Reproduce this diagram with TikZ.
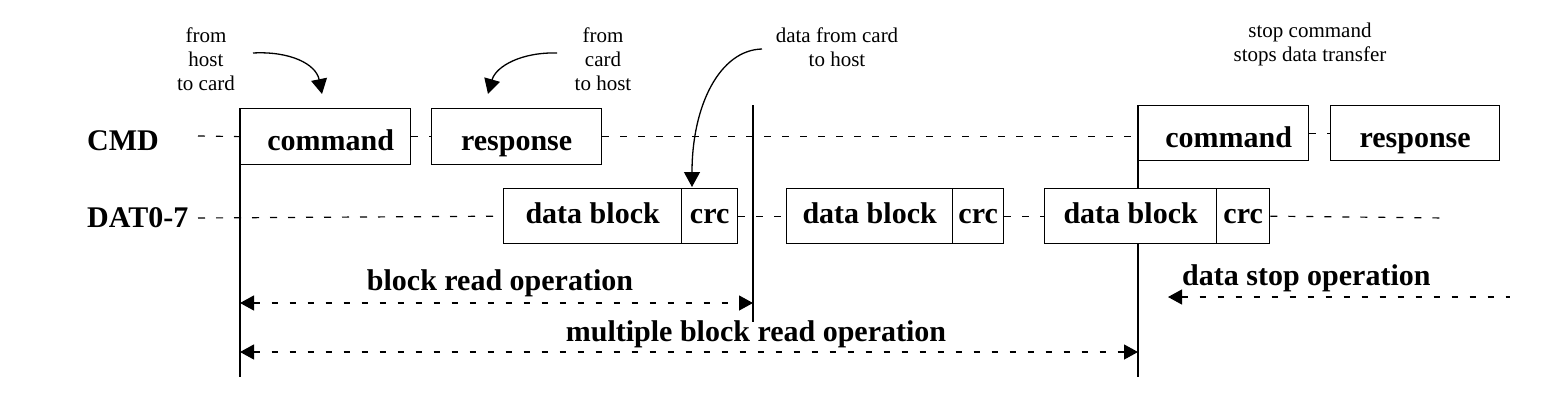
\documentclass[tikz,border=0pt]{standalone}
\usepackage{fontspec}
\setmainfont{Liberation Serif}
\usetikzlibrary{arrows.meta,backgrounds}
\begin{document}
\begin{tikzpicture}[x=1pt,y=-1pt,
  lbl/.style={font=\bfseries\fontsize{30}{36}\selectfont, inner sep=0pt},
  note/.style={font=\fontsize{21}{24}\selectfont, align=center, inner sep=0pt, anchor=north},
  sigbox/.style={draw, fill=white, line width=1.3pt, inner sep=0pt, anchor=north west,
     font=\bfseries\fontsize{30}{36}\selectfont, text depth=0pt},
  cmdbox/.style={sigbox, text height=28pt},
  datbox/.style={sigbox, text height=15pt, minimum height=55pt},
  dashline/.style={line width=1.2pt, dash pattern=on 7pt off 11pt},
  vline/.style={line width=1.3pt},
  oparrow/.style={line width=1.2pt, dash pattern=on 6pt off 12pt, {Triangle[length=14pt,width=15pt]}-{Triangle[length=14pt,width=15pt]}},
  stoparrow/.style={line width=1.2pt, dash pattern=on 6pt off 12pt, {Triangle[length=14pt,width=15pt]}-},
  curvearrow/.style={line width=1.3pt, -{Triangle[length=15pt,width=16pt]}}
]
\useasboundingbox (0,0) rectangle (1560,402);

% signal names
\node[lbl, anchor=base west] (cmdname) at (87,150) {CMD};
\node[lbl, anchor=base west] (datname) at (87,227) {DAT0-7};

% CMD line boxes
\node[cmdbox, minimum width=170pt, minimum height=56pt] (cmd1) at (240,108) {\hspace*{10pt}command};
\node[cmdbox, minimum width=170pt, minimum height=56pt] (rsp1) at (431,108) {response};
\node[cmdbox, minimum width=170pt, minimum height=55pt] (cmd2) at (1138,105) {\hspace*{10pt}command};
\node[cmdbox, minimum width=169pt, minimum height=55pt] (rsp2) at (1330,105) {response};

% DAT line boxes
\node[datbox, minimum width=178pt] (db1) at (503,188) {data block};
\node[datbox, minimum width=56pt] (crc1) at (681,188) {crc};
\node[datbox, minimum width=166pt] (db2) at (786,188) {data block};
\node[datbox, minimum width=51pt] (crc2) at (952,188) {crc};
\node[datbox, minimum width=172pt] (db3) at (1044,188) {data block};
\node[datbox, minimum width=53pt] (crc3) at (1216,188) {crc};

% free ends
\coordinate (cmdstart) at (198,136);
\coordinate (datstart) at (198,218);
\coordinate (datend) at (1447,218);
\coordinate (v1bot) at (240,377);
\coordinate (v2top) at (753,105);
\coordinate (v2bot) at (753,322);
\coordinate (v3bot) at (1138,377);

\begin{scope}[on background layer]
\fill[white] (0,0) rectangle (1560,402);
% vertical markers (hidden behind the boxes)
\draw[vline] (cmd1.north west) -- (v1bot);
\draw[vline] (v2top) -- (v2bot);
\draw[vline] (cmd2.north west) -- (v3bot);
% dashed bus lines
\draw[dashline] (cmdstart) -- (cmd1.west);
\draw[dashline] (cmd1.east) -- (rsp1.west);
\draw[dashline] (rsp1.east) -- (rsp1.east -| cmd2.west);
\draw[dashline] (cmd2.east) -- (rsp2.west);
\draw[dashline] (datstart) -- (db1.west);
\draw[dashline] (crc1.east) -- (db2.west);
\draw[dashline] (crc2.east) -- (db3.west);
\draw[dashline] (crc3.east) -- (datend);
\end{scope}

% operation arrows
\coordinate (br1) at (240,303);
\coordinate (br2) at (753,303);
\coordinate (mb1) at (240,352);
\coordinate (mb2) at (1138,352);
\coordinate (ds1) at (1168,297);
\coordinate (ds2) at (1510,297);
\draw[oparrow] (br1) -- (br2);
\draw[oparrow] (mb1) -- (mb2);
\draw[stoparrow] (ds1) -- (ds2);
\node[lbl, anchor=base] (brtext) at (500,290) {block read operation};
\node[lbl, anchor=base] (mbtext) at (756,341) {multiple block read operation};
\node[lbl, anchor=base west] (dstext) at (1182,285) {data stop operation};

% annotations
\node[note] (n1) at (206,27.5) {from\\host\\to card};
\node[note] (n2) at (603,27.5) {from\\card\\to host};
\node[note] (n3) at (837,27.5) {data from card\\to host};
\node[note] (n4) at (1310,22.5) {stop command\\stops data transfer};

\coordinate (a1s) at (253,53);
\coordinate (a1e) at (322,94);
\coordinate (a2s) at (557,53);
\coordinate (a2e) at (488,94);
\coordinate (a3s) at (762,49);
\coordinate (a3e) at (692,187);
\draw[curvearrow] (a1s) .. controls (290,51) and (316,64) .. (a1e);
\draw[curvearrow] (a2s) .. controls (522,52) and (496,66) .. (a2e);
\draw[curvearrow] (a3s) .. controls (720,50) and (692,105) .. (a3e);
\end{tikzpicture}
\end{document}
